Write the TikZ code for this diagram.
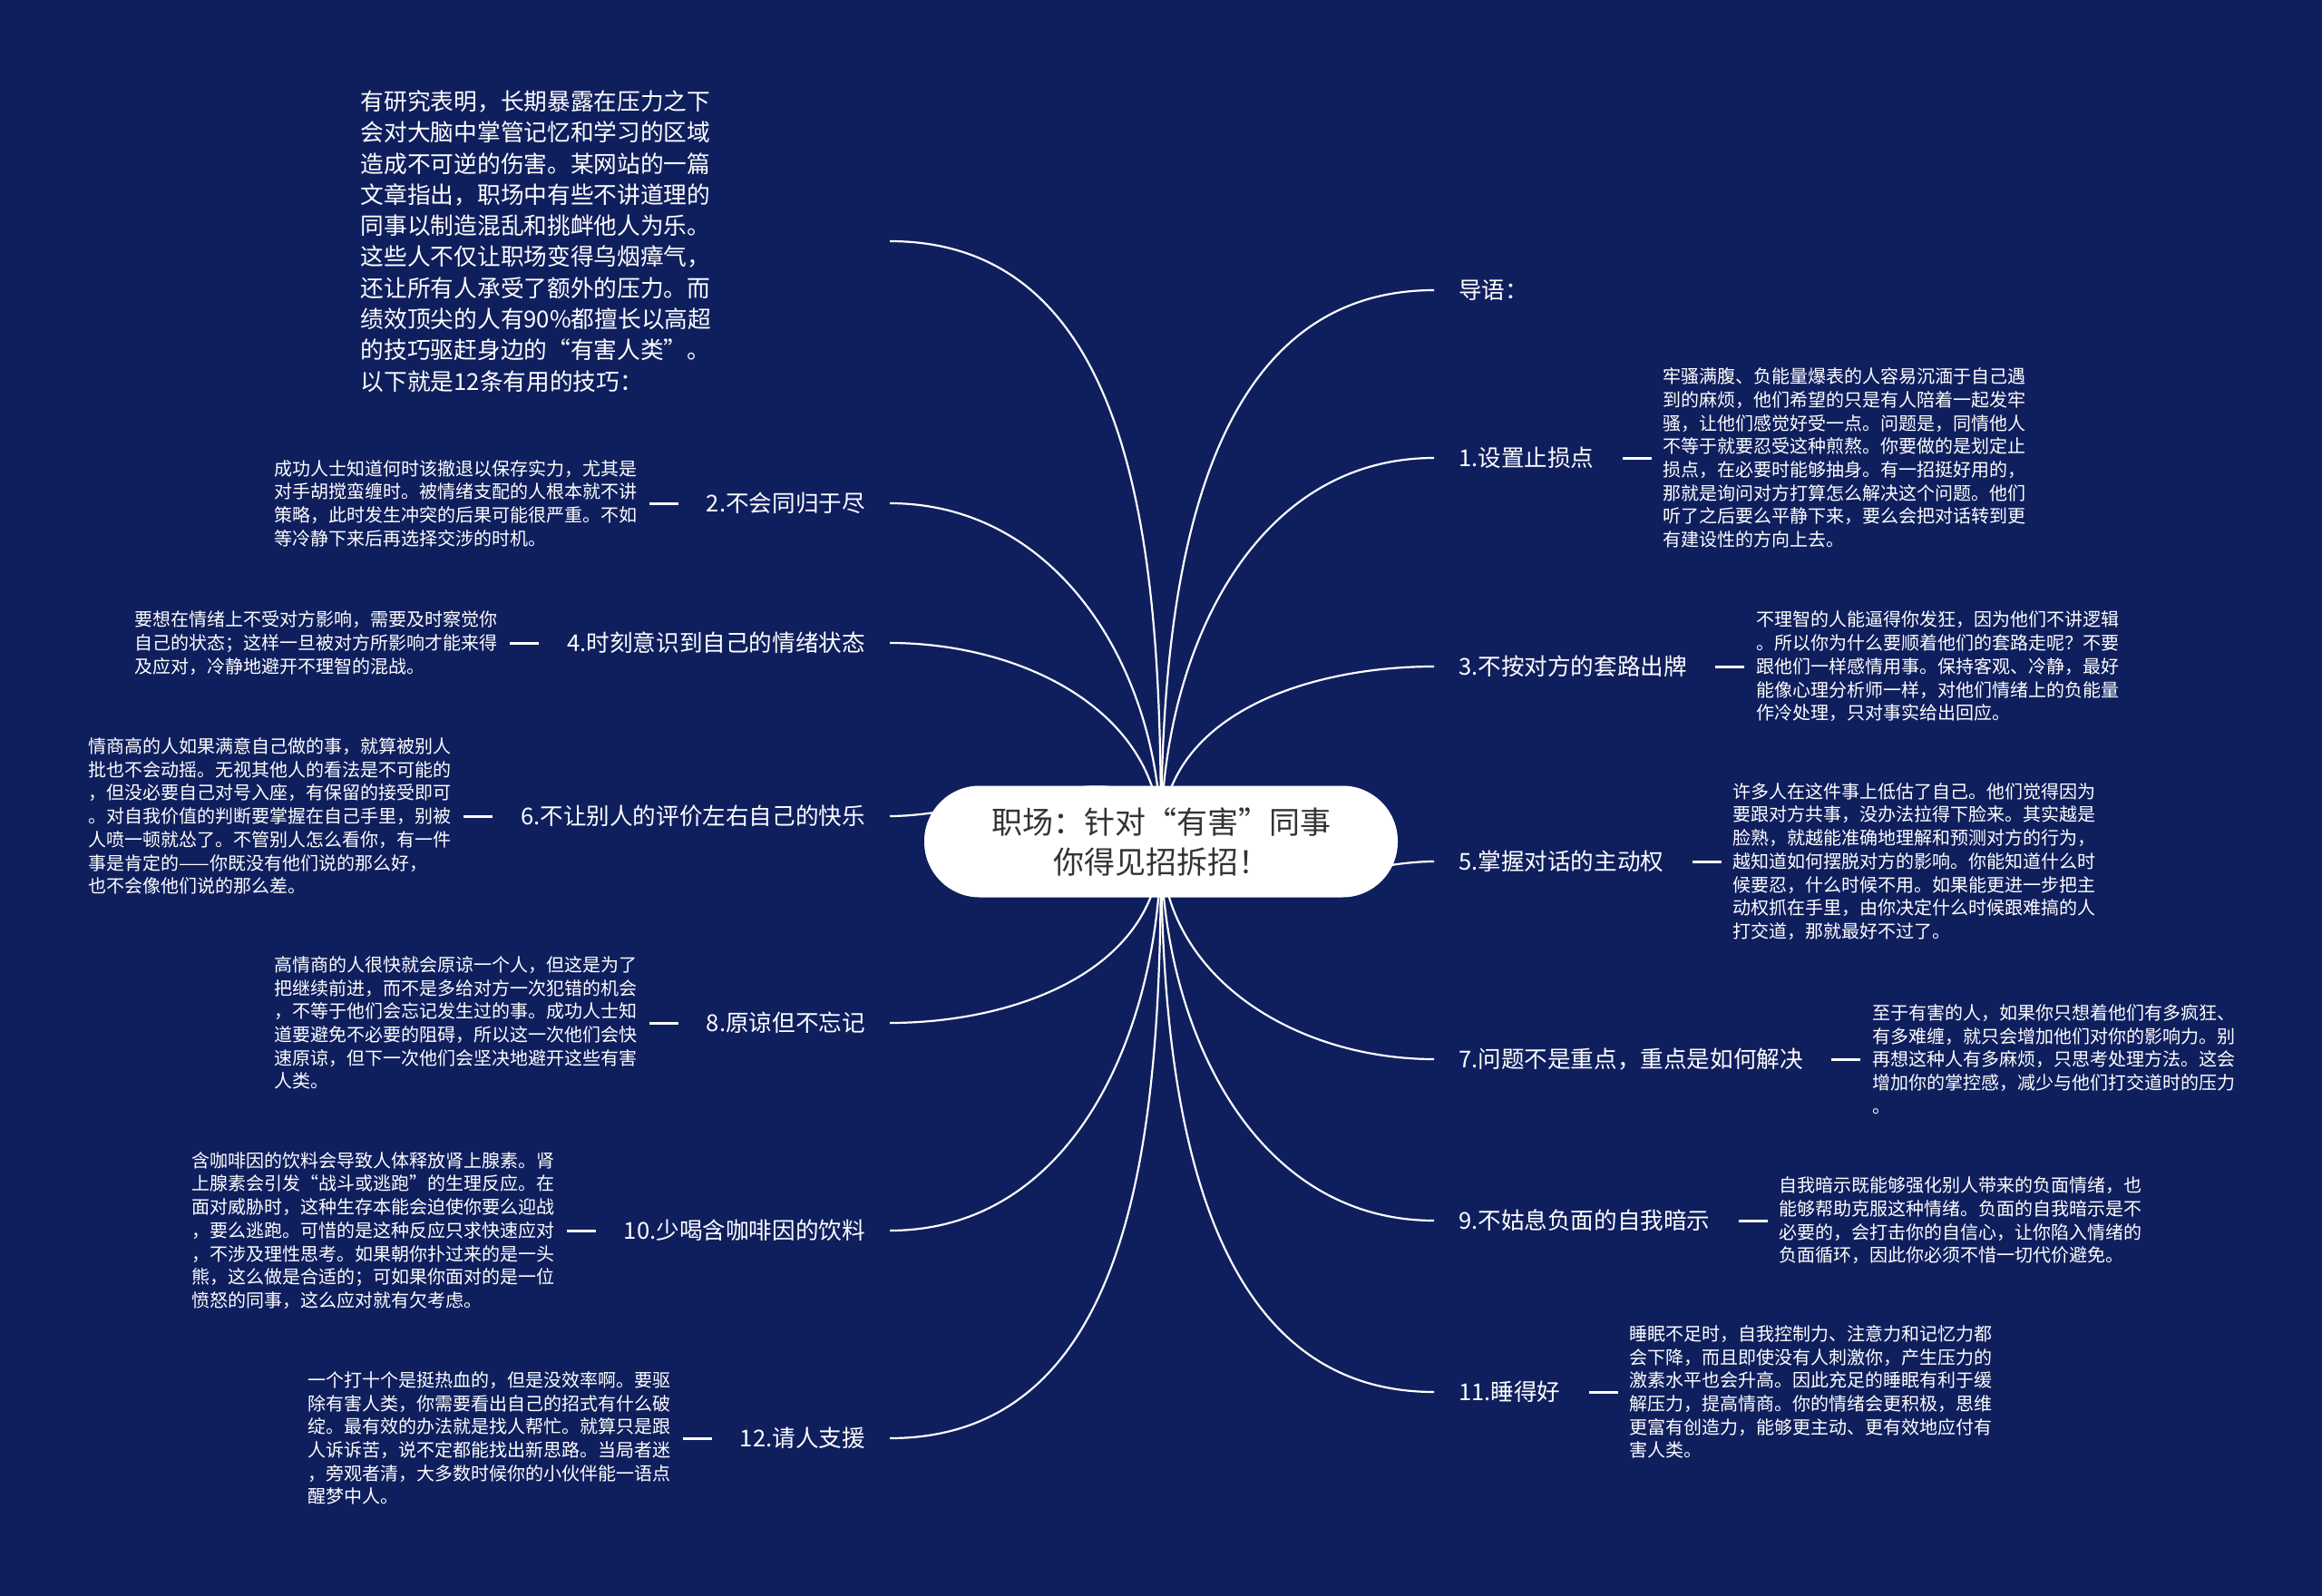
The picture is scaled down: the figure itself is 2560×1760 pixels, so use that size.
\documentclass[tikz,border=0pt]{standalone}
\usepackage{fontspec}
\setmainfont{Noto Sans CJK SC}
\usetikzlibrary{positioning}
\definecolor{navy}{HTML}{0F1F5E}
\definecolor{ink}{HTML}{333333}
\begin{document}
\begin{tikzpicture}[x=1pt,y=-1pt,node distance=49pt,
rootbox/.style={fill=white,rounded corners=61pt,minimum width=522pt,minimum height=123pt,align=center,text=ink,font=\fontsize{34}{44}\selectfont},
lab/.style={text=white,inner xsep=27pt,inner ysep=0pt,font=\fontsize{25.6}{30}\selectfont},
det/.style={text=white,align=left,inner sep=0pt,font=\fontsize{20}{25.7}\selectfont},
intro/.style={text=white,align=left,text width=556pt,inner xsep=27pt,inner ysep=0pt,font=\fontsize{25.7}{34.3}\selectfont},
branch/.style={draw=white,line width=2.2pt},
stub/.style={draw=white,line width=3pt,shorten <=4pt,shorten >=13pt}]
\path[use as bounding box,fill=navy] (0,0) rectangle (2560,1760);
\coordinate (hub) at (1280,928);
\node[intro,anchor=east] (pre) at (981,266) {有研究表明，长期暴露在压力之下\\会对大脑中掌管记忆和学习的区域\\造成不可逆的伤害。某网站的一篇\\文章指出，职场中有些不讲道理的\\同事以制造混乱和挑衅他人为乐。\\这些人不仅让职场变得乌烟瘴气，\\还让所有人承受了额外的压力。而\\绩效顶尖的人有90\%都擅长以高超\\的技巧驱赶身边的“有害人类”。\\以下就是12条有用的技巧：};
\node[lab,anchor=west] (r0) at (1581,320) {导语：};
\node[lab,anchor=west] (r1) at (1581,505) {1.设置止损点};
\node[lab,anchor=west] (r3) at (1581,735) {3.不按对方的套路出牌};
\node[lab,anchor=west] (r5) at (1581,950) {5.掌握对话的主动权};
\node[lab,anchor=west] (r7) at (1581,1168) {7.问题不是重点，重点是如何解决};
\node[lab,anchor=west] (r9) at (1581,1346) {9.不姑息负面的自我暗示};
\node[lab,anchor=west] (r11) at (1581,1535) {11.睡得好};
\node[lab,anchor=east] (l2) at (981,555) {2.不会同归于尽};
\node[lab,anchor=east] (l4) at (981,709) {4.时刻意识到自己的情绪状态};
\node[lab,anchor=east] (l6) at (981,900) {6.不让别人的评价左右自己的快乐};
\node[lab,anchor=east] (l8) at (981,1128) {8.原谅但不忘记};
\node[lab,anchor=east] (l10) at (981,1357) {10.少喝含咖啡因的饮料};
\node[lab,anchor=east] (l12) at (981,1586) {12.请人支援};
\node[det,right=of r1] (d1) {牢骚满腹、负能量爆表的人容易沉湎于自己遇\\到的麻烦，他们希望的只是有人陪着一起发牢\\骚，让他们感觉好受一点。问题是，同情他人\\不等于就要忍受这种煎熬。你要做的是划定止\\损点，在必要时能够抽身。有一招挺好用的，\\那就是询问对方打算怎么解决这个问题。他们\\听了之后要么平静下来，要么会把对话转到更\\有建设性的方向上去。};
\node[det,right=of r3] (d3) {不理智的人能逼得你发狂，因为他们不讲逻辑\\。所以你为什么要顺着他们的套路走呢？不要\\跟他们一样感情用事。保持客观、冷静，最好\\能像心理分析师一样，对他们情绪上的负能量\\作冷处理，只对事实给出回应。};
\node[det,right=of r5] (d5) {许多人在这件事上低估了自己。他们觉得因为\\要跟对方共事，没办法拉得下脸来。其实越是\\脸熟，就越能准确地理解和预测对方的行为，\\越知道如何摆脱对方的影响。你能知道什么时\\候要忍，什么时候不用。如果能更进一步把主\\动权抓在手里，由你决定什么时候跟难搞的人\\打交道，那就最好不过了。};
\node[det,right=of r7] (d7) {至于有害的人，如果你只想着他们有多疯狂、\\有多难缠，就只会增加他们对你的影响力。别\\再想这种人有多麻烦，只思考处理方法。这会\\增加你的掌控感，减少与他们打交道时的压力\\。};
\node[det,right=of r9] (d9) {自我暗示既能够强化别人带来的负面情绪，也\\能够帮助克服这种情绪。负面的自我暗示是不\\必要的，会打击你的自信心，让你陷入情绪的\\负面循环，因此你必须不惜一切代价避免。};
\node[det,right=of r11] (d11) {睡眠不足时，自我控制力、注意力和记忆力都\\会下降，而且即使没有人刺激你，产生压力的\\激素水平也会升高。因此充足的睡眠有利于缓\\解压力，提高情商。你的情绪会更积极，思维\\更富有创造力，能够更主动、更有效地应付有\\害人类。};
\node[det,left=of l2] (d2) {成功人士知道何时该撤退以保存实力，尤其是\\对手胡搅蛮缠时。被情绪支配的人根本就不讲\\策略，此时发生冲突的后果可能很严重。不如\\等冷静下来后再选择交涉的时机。};
\node[det,left=of l4] (d4) {要想在情绪上不受对方影响，需要及时察觉你\\自己的状态；这样一旦被对方所影响才能来得\\及应对，冷静地避开不理智的混战。};
\node[det,left=of l6] (d6) {情商高的人如果满意自己做的事，就算被别人\\批也不会动摇。无视其他人的看法是不可能的\\，但没必要自己对号入座，有保留的接受即可\\。对自我价值的判断要掌握在自己手里，别被\\人喷一顿就怂了。不管别人怎么看你，有一件\\事是肯定的——你既没有他们说的那么好，\\也不会像他们说的那么差。};
\node[det,left=of l8] (d8) {高情商的人很快就会原谅一个人，但这是为了\\把继续前进，而不是多给对方一次犯错的机会\\，不等于他们会忘记发生过的事。成功人士知\\道要避免不必要的阻碍，所以这一次他们会快\\速原谅，但下一次他们会坚决地避开这些有害\\人类。};
\node[det,left=of l10] (d10) {含咖啡因的饮料会导致人体释放肾上腺素。肾\\上腺素会引发“战斗或逃跑”的生理反应。在\\面对威胁时，这种生存本能会迫使你要么迎战\\，要么逃跑。可惜的是这种反应只求快速应对\\，不涉及理性思考。如果朝你扑过来的是一头\\熊，这么做是合适的；可如果你面对的是一位\\愤怒的同事，这么应对就有欠考虑。};
\node[det,left=of l12] (d12) {一个打十个是挺热血的，但是没效率啊。要驱\\除有害人类，你需要看出自己的招式有什么破\\绽。最有效的办法就是找人帮忙。就算只是跟\\人诉诉苦，说不定都能找出新思路。当局者迷\\，旁观者清，大多数时候你的小伙伴能一语点\\醒梦中人。};
\foreach \n in {r0,r1,r3} \draw[branch] (hub) to[out=90,in=180] (\n.west);
\foreach \n in {r5,r7,r9,r11} \draw[branch] (hub) to[out=-90,in=180] (\n.west);
\foreach \n in {pre,l2,l4,l6} \draw[branch] (hub) to[out=90,in=0] (\n.east);
\foreach \n in {l8,l10,l12} \draw[branch] (hub) to[out=-90,in=0] (\n.east);
\foreach \n in {1,3,5,7,9,11} \draw[stub] (r\n.east)--(d\n.west);
\foreach \n in {2,4,6,8,10,12} \draw[stub] (l\n.west)--(d\n.east);
\node[rootbox] (root) at (hub) {职场：针对“有害”同事\\你得见招拆招！};
\end{tikzpicture}
\end{document}
